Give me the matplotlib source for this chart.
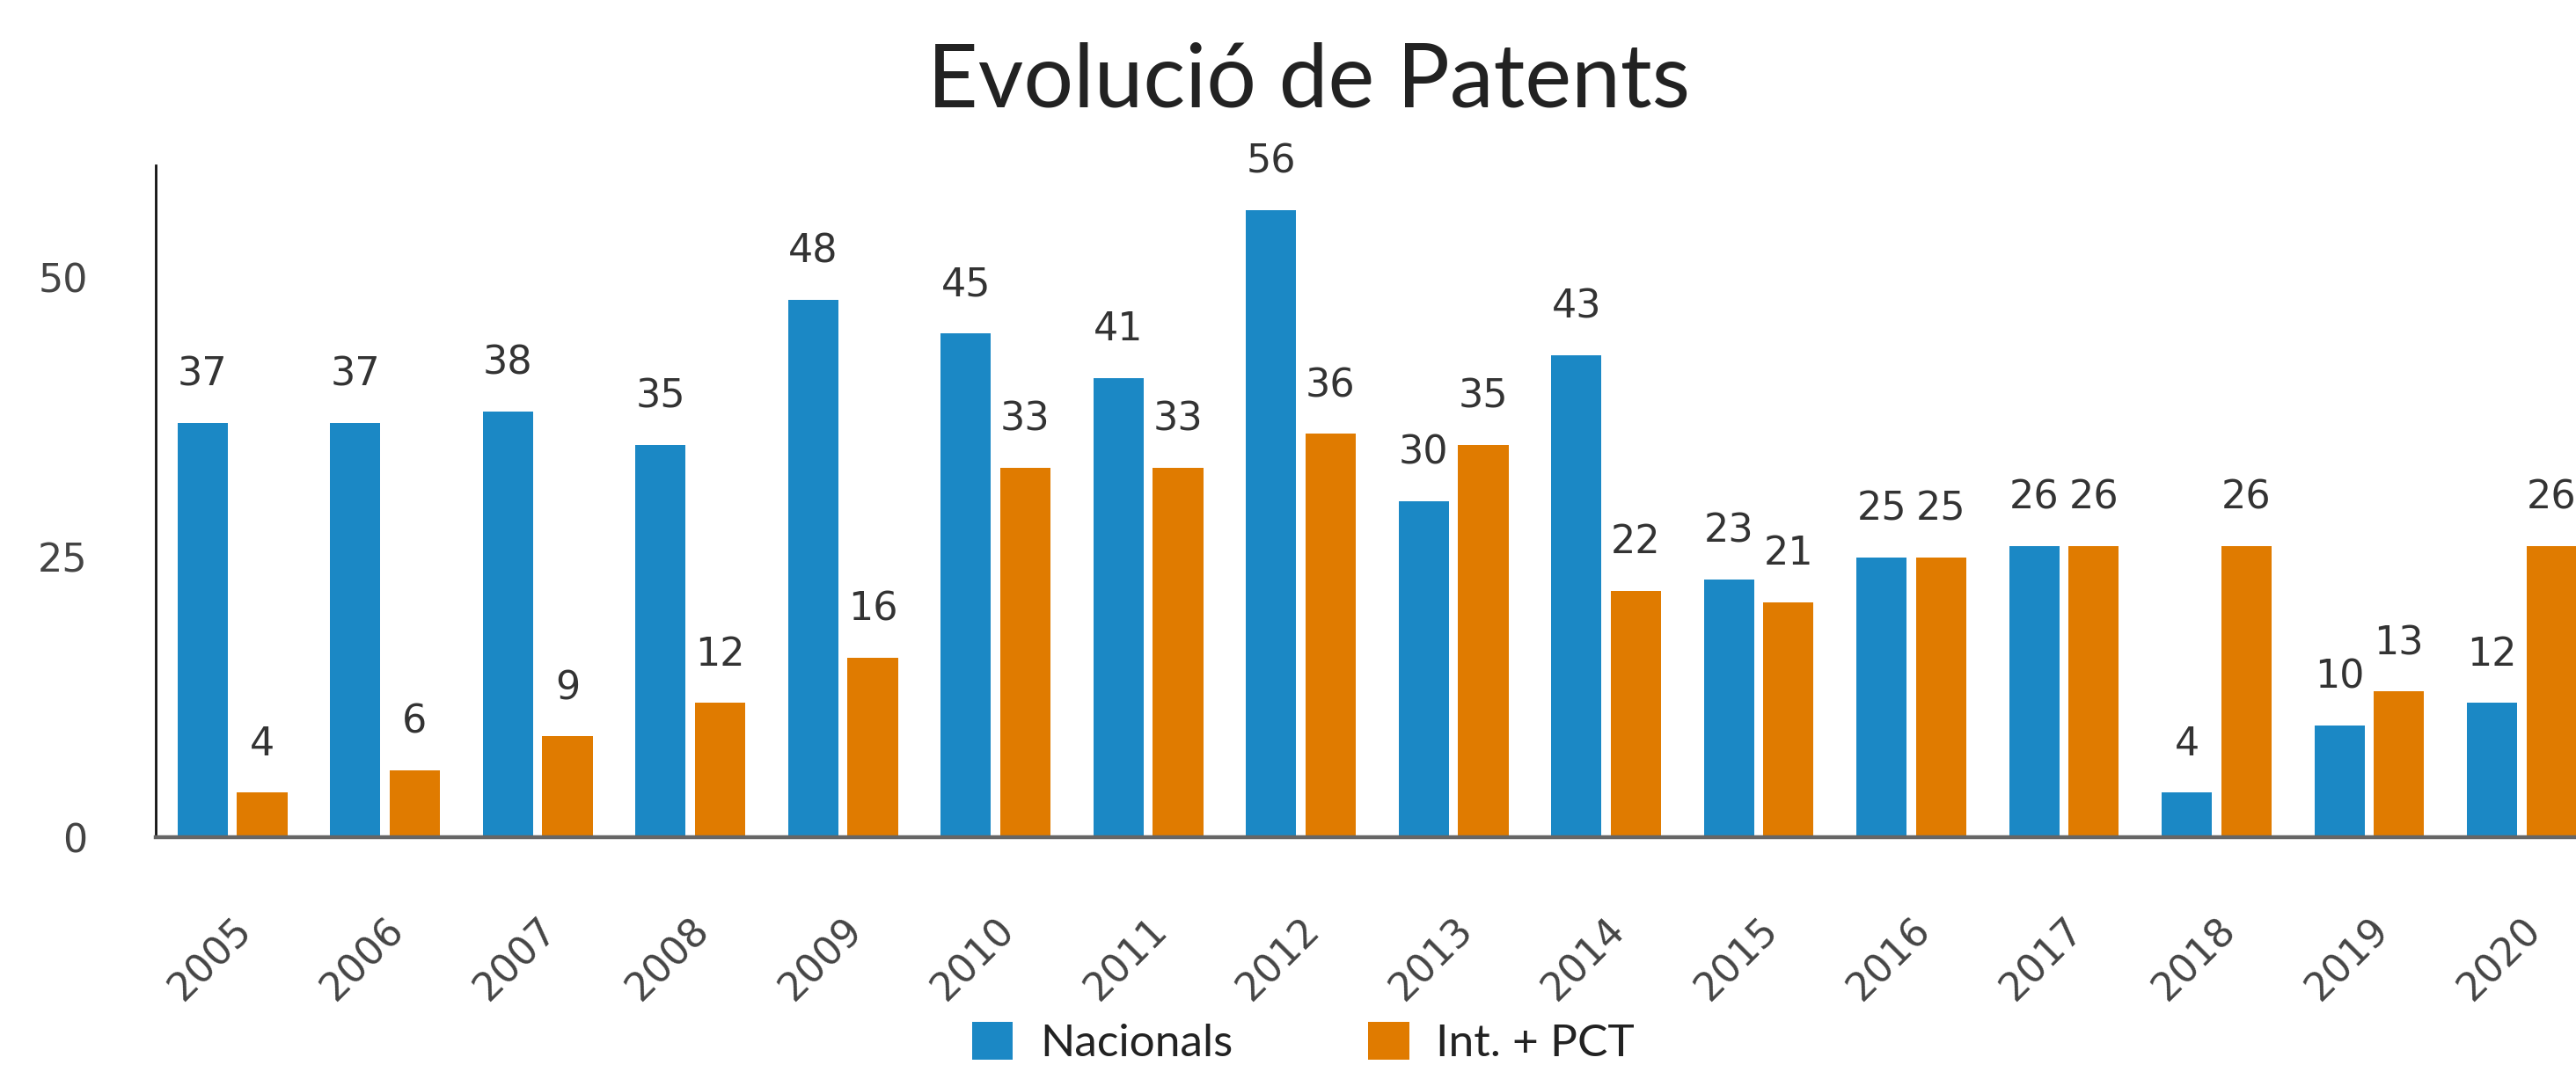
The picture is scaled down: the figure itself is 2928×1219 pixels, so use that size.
import matplotlib
matplotlib.use("Agg")
import matplotlib.pyplot as plt
import numpy as np

years = ["2005", "2006", "2007", "2008", "2009", "2010", "2011", "2012",
         "2013", "2014", "2015", "2016", "2017", "2018", "2019", "2020"]
nacionals = [37, 37, 38, 35, 48, 45, 41, 56, 30, 43, 23, 25, 26, 4, 10, 12]
internacionals = [4, 6, 9, 12, 16, 33, 33, 36, 35, 22, 21, 25, 26, 26, 13, 26]
series_names = ["Nacionals", "Int. + PCT"]
yticks = [0, 25, 50]

BLUE = "#1b88c5"
ORANGE = "#e07b00"

fig = plt.figure(figsize=(14.64, 6.095), dpi=200)
ax = fig.add_axes([0.0606, 0.219, 0.948, 0.627])

x = np.arange(len(years))
w = 0.33
off = 0.195
b1 = ax.bar(x - off, nacionals, w, color=BLUE, label=series_names[0])
b2 = ax.bar(x + off, internacionals, w, color=ORANGE, label=series_names[1])

for bars in (b1, b2):
    ax.bar_label(bars, padding=12, fontsize=16, color="#333333", family="DejaVu Sans")

ax.set_xlim(-0.5, len(years) - 0.5)
ax.set_ylim(0, 60)
ax.set_yticks(yticks)
ax.set_yticklabels([str(v) for v in yticks], fontsize=16, color="#444444", family="DejaVu Sans")
ax.tick_params(axis="y", length=0, pad=28)
ax.set_xticks(x)
ax.set_xticklabels(years, rotation=45, ha="right", rotation_mode="anchor",
                   fontsize=16, color="#444444", family="DejaVu Sans")
ax.tick_params(axis="x", length=0, pad=30)

for s in ("top", "right"):
    ax.spines[s].set_visible(False)
ax.spines["left"].set_color("#111111")
ax.spines["left"].set_linewidth(1.0)
ax.spines["bottom"].set_color("#666666")
ax.spines["bottom"].set_linewidth(1.6)

fig.text(0.508, 0.90, "Evolució de Patents", ha="center", va="baseline",
         fontsize=36, family="Lato", color="#222222")

leg = fig.legend(handles=[b1, b2], labels=series_names, loc="center",
                 bbox_to_anchor=(0.506, 0.027), ncol=2, frameon=False,
                 prop={"family": "Lato", "size": 18.5}, handlelength=0.9,
                 handleheight=0.9, handletextpad=0.6, columnspacing=3.0)
for t in leg.get_texts():
    t.set_color("#222222")

fig.savefig("out.png", dpi=200)
